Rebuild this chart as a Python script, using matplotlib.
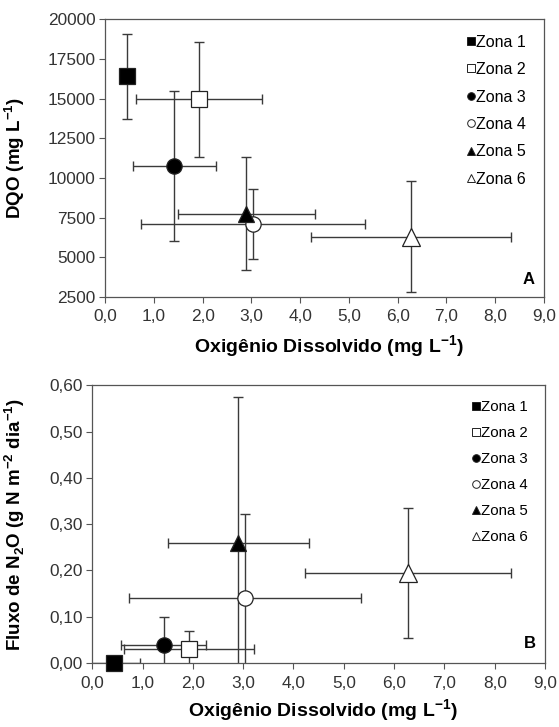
import matplotlib
matplotlib.use('Agg')
import matplotlib.pyplot as plt
from matplotlib.ticker import FuncFormatter, MultipleLocator

plt.rcParams['font.family'] = ['Liberation Sans', 'DejaVu Sans']
plt.rcParams['mathtext.fontset'] = 'custom'
plt.rcParams['mathtext.rm'] = 'Liberation Sans'
plt.rcParams['mathtext.bf'] = 'Liberation Sans:bold'

# data
zonas = ['Zona 1', 'Zona 2', 'Zona 3', 'Zona 4', 'Zona 5', 'Zona 6']
od = [0.44, 1.92, 1.42, 3.04, 2.90, 6.27]
od_err_a = [0.0, 1.29, 0.85, 2.30, 1.40, 2.05]
od_err_b = [0.50, 1.29, 0.84, 2.30, 1.40, 2.05]
dqo = [16400, 14950, 10750, 7100, 7750, 6300]
dqo_err = [2700, 3600, 4730, 2180, 3570, 3480]
n2o = [0.0, 0.030, 0.039, 0.141, 0.260, 0.194]
n2o_err = [0.0, 0.040, 0.060, 0.180, 0.315, 0.140]

markers = ['s', 's', 'o', 'o', '^', '^']
faces = ['black', 'white', 'black', 'white', 'black', 'white']
msizes = [11, 11, 11, 11, 11, 13]

ecol = '#3a3a3a'
fig = plt.figure(figsize=(5.59, 7.27), dpi=100)
axA = fig.add_axes([0.188, 0.5915, 0.785, 0.382])
axB = fig.add_axes([0.165, 0.088, 0.810, 0.382])

comma = lambda fmt: FuncFormatter(lambda v, p: (fmt % v).replace('.', ','))


def panel(ax, y, yerr, xerr, fs_leg, spacing):
    for i in range(len(zonas)):
        ax.errorbar(od[i], y[i], xerr=xerr[i] if xerr[i] else None,
                    yerr=yerr[i] if yerr[i] else None,
                    fmt='none', ecolor=ecol, elinewidth=1.0, capsize=3.3, capthick=1.0, zorder=2)
        ax.plot(od[i], y[i], marker=markers[i], ms=msizes[i], mfc=faces[i],
                mec='#222222', mew=0.9, ls='none', zorder=3, clip_on=False)
    # legend handles with small markers
    hs = [ax.plot([], [], marker=markers[i], ms=5.5, mfc=faces[i], mec='#222222',
                  mew=0.7, ls='none')[0] for i in range(len(zonas))]
    ax.legend(hs, zonas, loc='upper right', frameon=False, fontsize=fs_leg,
              handlelength=0.5, handletextpad=0.05, labelspacing=spacing,
              borderaxespad=0.3, bbox_to_anchor=(0.985, 0.985))
    ax.set_xlim(0, 9)
    ax.xaxis.set_major_locator(MultipleLocator(1))
    ax.xaxis.set_major_formatter(comma('%.1f'))
    ax.set_xlabel('Oxigênio Dissolvido (mg L$^{\\mathbf{-1}}$)', fontsize=14,
                  fontweight='bold')
    ax.tick_params(direction='out', length=4, width=0.8, color='#555555',
                   labelsize=12.4, labelcolor='#333333')
    ax.tick_params(axis='x', pad=5)
    ax.tick_params(axis='y', pad=3)
    for s in ax.spines.values():
        s.set_color('#555555')
        s.set_linewidth(0.9)


panel(axA, dqo, dqo_err, od_err_a, 11.5, 0.78)
axA.set_ylim(2500, 20000)
axA.yaxis.set_major_locator(MultipleLocator(2500))
axA.set_ylabel('DQO (mg L$^{\\mathbf{-1}}$)', fontsize=13.5, fontweight='bold')
axA.xaxis.set_label_coords(0.51, -0.13)
axA.yaxis.set_label_coords(-0.178, 0.5)
axA.text(0.978, 0.035, 'A', transform=axA.transAxes, ha='right', va='bottom',
         fontsize=12, fontweight='bold')

panel(axB, n2o, n2o_err, od_err_b, 10.8, 0.8)
axB.set_ylim(0, 0.6)
axB.yaxis.set_major_locator(MultipleLocator(0.1))
axB.yaxis.set_major_formatter(comma('%.2f'))
axB.set_ylabel('Fluxo de N$_{\\mathbf{2}}$O (g N m$^{\\mathbf{-2}}$ dia$^{\\mathbf{-1}}$)',
               fontsize=13.5, fontweight='bold')
axB.xaxis.set_label_coords(0.51, -0.122)
axB.yaxis.set_label_coords(-0.143, 0.5)
axB.text(0.98, 0.045, 'B', transform=axB.transAxes, ha='right', va='bottom',
         fontsize=12, fontweight='bold')

fig.savefig('out.png', dpi=100)
